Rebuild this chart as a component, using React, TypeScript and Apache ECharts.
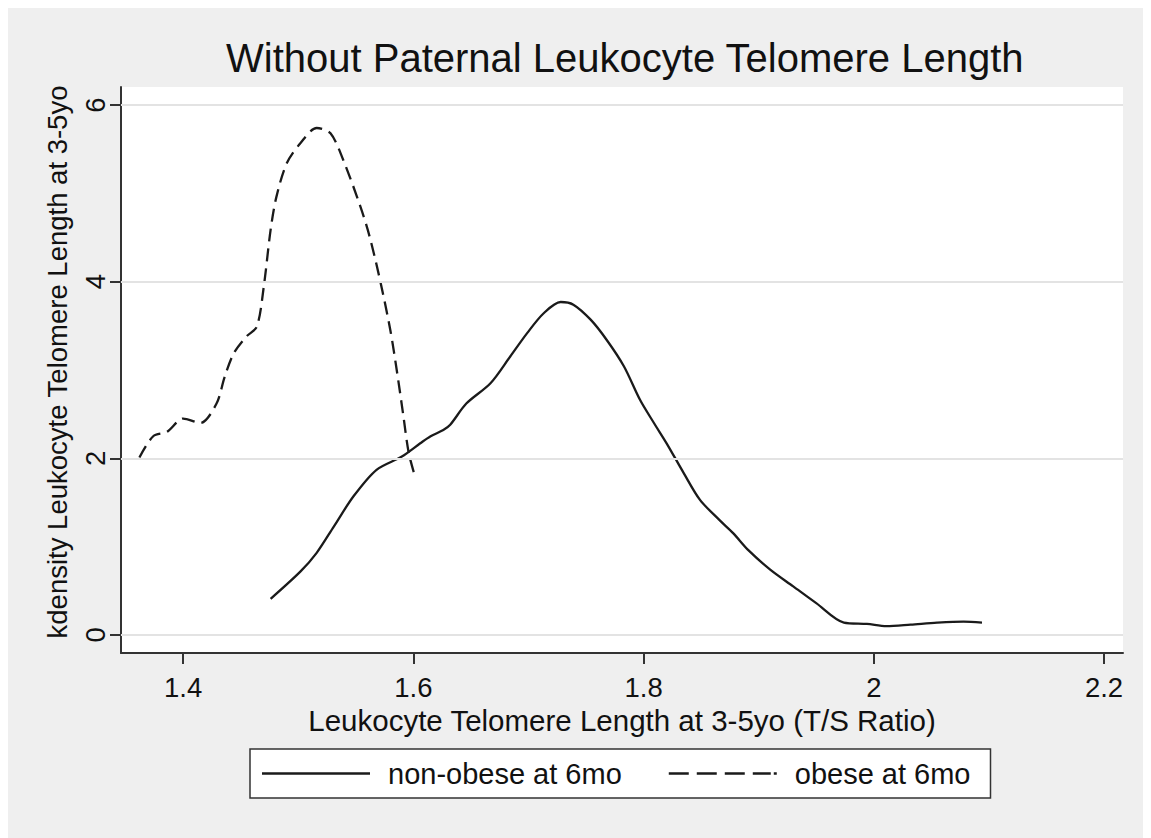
import React, { useEffect, useRef } from "react";
import * as echarts from "echarts";

const FONT = "'Liberation Sans', Arial, Helvetica, sans-serif";

const titleText = "Without Paternal Leukocyte Telomere Length";
const xAxisTitle = "Leukocyte Telomere Length at 3-5yo (T/S Ratio)";
const yAxisTitle = "kdensity Leukocyte Telomere Length at 3-5yo";
const seriesNames = ["non-obese at 6mo", "obese at 6mo"];

const xTicks = [1.4, 1.6, 1.8, 2, 2.2];
const yTicks = [0, 2, 4, 6];

// kernel density, non-obese at 6mo: [T/S ratio, density]
const nonObese: [number, number][] = [
  [1.476, 0.41], [1.502, 0.72], [1.516, 0.93], [1.531, 1.23], [1.548, 1.57],
  [1.568, 1.87], [1.59, 2.02], [1.606, 2.17], [1.615, 2.25], [1.626, 2.32],
  [1.632, 2.38], [1.646, 2.62], [1.667, 2.85], [1.684, 3.15], [1.699, 3.42],
  [1.713, 3.64], [1.728, 3.77], [1.739, 3.74], [1.754, 3.57], [1.768, 3.34],
  [1.783, 3.04], [1.797, 2.66], [1.809, 2.4], [1.82, 2.17], [1.835, 1.83],
  [1.849, 1.53], [1.866, 1.3], [1.878, 1.15], [1.891, 0.96], [1.91, 0.74],
  [1.93, 0.55], [1.95, 0.36], [1.974, 0.14], [1.994, 0.125], [2.011, 0.1],
  [2.032, 0.117], [2.055, 0.139], [2.078, 0.151], [2.094, 0.14],
];

// kernel density, obese at 6mo
const obese: [number, number][] = [
  [1.362, 2.01], [1.374, 2.25], [1.386, 2.3], [1.4, 2.45], [1.415, 2.4],
  [1.429, 2.62], [1.436, 2.92], [1.444, 3.19], [1.455, 3.38], [1.464, 3.49],
  [1.47, 3.94], [1.476, 4.59], [1.481, 4.96], [1.49, 5.34], [1.502, 5.57],
  [1.516, 5.74], [1.528, 5.68], [1.539, 5.38], [1.554, 4.85], [1.562, 4.51],
  [1.571, 4.02], [1.58, 3.45], [1.586, 2.96], [1.591, 2.51], [1.596, 2.06],
  [1.602, 1.77],
];

// legend key shapes (108 x 2.5 box)
const solidKey = "path://M0,0h108v2.5h-108z";
const dashedKey =
  "path://M0,0h20v2.5h-20z M28,0h20v2.5h-20z M56,0h20v2.5h-20z M84,0h18v2.5h-18z M105,0h3v2.5h-3z";

export default function App() {
  const ref = useRef<HTMLDivElement>(null);

  useEffect(() => {
    if (!ref.current) return;
    const chart = echarts.init(ref.current, null, { renderer: "svg" });
    const axisColor = "#333333";
    const textColor = "#111111";
    chart.setOption({
      animation: false,
      backgroundColor: "#efefef",
      title: {
        text: titleText,
        left: 213,
        top: 25,
        textStyle: { fontFamily: FONT, fontSize: 40, fontWeight: "normal", color: textColor },
      },
      legend: {
        data: [
          { name: seriesNames[0], icon: solidKey },
          { name: seriesNames[1], icon: dashedKey },
        ],
        left: 242,
        top: 741,
        orient: "horizontal",
        padding: [10, 20, 10, 12],
        itemWidth: 108,
        itemHeight: 2.5,
        itemGap: 47,
        backgroundColor: "#ffffff",
        borderColor: axisColor,
        borderWidth: 1.5,
        textStyle: { fontFamily: FONT, fontSize: 29, color: textColor, padding: [0, 0, 0, 13] },
      },
      grid: {
        left: 113,
        top: 79,
        width: 1002,
        height: 566,
        show: true,
        backgroundColor: "#ffffff",
        borderWidth: 0,
        containLabel: false,
      },
      xAxis: {
        type: "value",
        min: 1.346,
        max: 2.2165,
        name: xAxisTitle,
        nameLocation: "middle",
        nameGap: 50,
        nameTextStyle: { fontFamily: FONT, fontSize: 29.5, color: textColor, verticalAlign: "top" },
        axisLine: { show: true, onZero: false, lineStyle: { color: axisColor, width: 2 } },
        axisTick: { show: true, length: 11, customValues: xTicks, lineStyle: { color: axisColor, width: 2 } },
        axisLabel: { customValues: xTicks, margin: 20, fontFamily: FONT, fontSize: 27.5, color: textColor },
        splitLine: { show: false },
      },
      yAxis: {
        type: "value",
        min: -0.204,
        max: 6.204,
        name: yAxisTitle,
        nameLocation: "middle",
        nameGap: 50,
        nameRotate: 90,
        nameTextStyle: { fontFamily: FONT, fontSize: 27.5, color: textColor, padding: [0, 0, 0, 16] },
        axisLine: { show: true, onZero: false, lineStyle: { color: axisColor, width: 2 } },
        axisTick: { show: true, length: 11, customValues: yTicks, lineStyle: { color: axisColor, width: 2 } },
        axisLabel: { customValues: yTicks, rotate: 90, margin: 12, fontFamily: FONT, fontSize: 27.5, color: textColor },
        splitLine: { show: false },
      },
      series: [
        {
          name: "_grid",
          type: "line",
          data: [],
          z: 1,
          silent: true,
          markLine: {
            silent: true,
            symbol: "none",
            label: { show: false },
            lineStyle: { color: "#e3e3e3", width: 2, type: "solid" },
            data: yTicks.map((v) => ({ yAxis: v })),
          },
        },
        {
          name: seriesNames[0],
          type: "line",
          data: nonObese,
          z: 3,
          showSymbol: false,
          symbol: "none",
          smooth: 0.3,
          color: "#1a1a1a",
          lineStyle: { color: "#1a1a1a", width: 2.3, type: "solid" },
        },
        {
          name: seriesNames[1],
          type: "line",
          data: obese,
          z: 3,
          showSymbol: false,
          symbol: "none",
          smooth: 0.3,
          color: "#1a1a1a",
          lineStyle: { color: "#1a1a1a", width: 2.3, type: [13, 7] },
        },
      ],
    });
    return () => chart.dispose();
  }, []);

  return <div ref={ref} style={{ width: 1143, height: 830 }} />;
}
